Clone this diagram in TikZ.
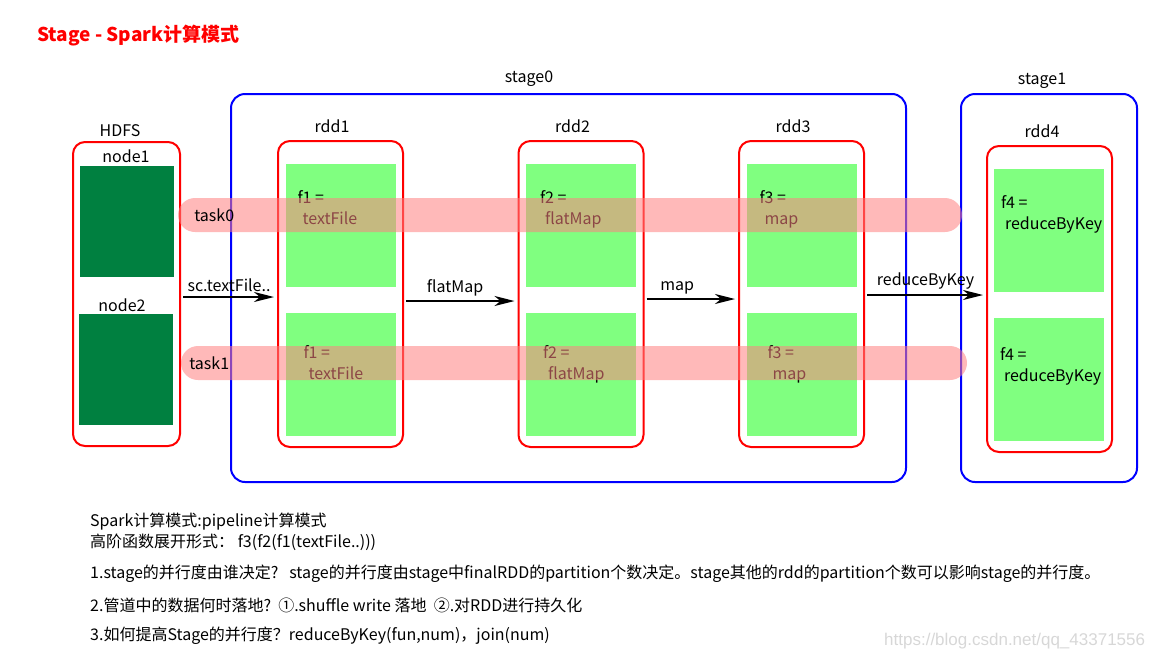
\documentclass[tikz,border=0pt]{standalone}
\usepackage{fontspec}
\setmainfont{Noto Sans CJK SC}
\newfontfamily\markfont{Liberation Sans}
\usetikzlibrary{arrows.meta,positioning,shapes.misc}
\definecolor{stageblue}{RGB}{0,0,255}
\definecolor{rddred}{RGB}{255,0,0}
\definecolor{hdfsgreen}{RGB}{0,128,64}
\definecolor{partgreen}{RGB}{128,255,128}
\definecolor{taskpink}{RGB}{255,128,128}
\definecolor{markgray}{RGB}{215,215,215}

\begin{document}
\begin{tikzpicture}[x=1pt,y=-1pt,
    font=\fontsize{16}{21}\selectfont,
    stagebox/.style={draw=stageblue,line width=2pt,rounded corners=14pt,inner sep=0pt},
    rddbox/.style={draw=rddred,line width=2pt,rounded corners=12pt,minimum width=125pt,minimum height=306pt,inner sep=0pt},
    part/.style={fill=partgreen,minimum width=110pt,minimum height=123pt,inner sep=0pt},
    block/.style={fill=hdfsgreen,minimum width=94pt,minimum height=111pt,inner sep=0pt},
    fntext/.style={align=left,inner sep=0pt},
    taskband/.style={rounded rectangle,fill=taskpink,fill opacity=0.55,minimum height=34pt,inner sep=0pt},
    flow/.style={-{Stealth[length=20pt,width=10pt,inset=6pt]},line width=2pt,shorten <=2pt,shorten >=3pt},
    note/.style={anchor=west,inner sep=0pt}]
  \useasboundingbox (0,0) rectangle (1159,662);
  % Titel
  \node[note,text=rddred,font=\fontsize{19}{23}\selectfont\bfseries] (title) at (37,36) {Stage - Spark计算模式};

  % Stages
  \node[stagebox,minimum width=675pt,minimum height=388pt] (stage0) at (568.5,288) {};
  \node[stagebox,minimum width=176pt,minimum height=388pt] (stage1) at (1049,288) {};
  \node (stage0lbl) at (529,79) {stage0};
  \node (stage1lbl) at (1042,81) {stage1};

  % HDFS mit zwei Bloecken
  \node[rddbox,minimum width=107pt,minimum height=304pt] (hdfs) at (126.5,294) {};
  \node (hdfslbl) at (120,131) {HDFS};
  \node[block] (node1) at (127,221.5) {};
  \node[block] (node2) at (126,369.5) {};
  \node (node1lbl) at (126,156) {node1};
  \node (node2lbl) at (122,305) {node2};

  % rdd1 bis rdd3 in stage0
  \foreach \i/\x/\f/\fn/\ta/\tb in {1/340.5/f1/textFile/12pt/18pt,
                                    2/581/f2/flatMap/14pt/17pt,
                                    3/801.5/f3/map/13pt/21pt}{
    \node[rddbox] (rdd\i) at (\x,294) {};
    \node (rdd\i lbl) at (\x-8.5,126) {rdd\i};
    \node[part] (rdd\i p0) at (\x,225.5) {};
    \node[part] (rdd\i p1) at (\x,374) {};
    \node[fntext,below right=27pt and \ta of rdd\i p0.north west] (rdd\i f0) {\f\ =\\\hspace*{5pt}\fn};
    \node[fntext,below right=33pt and \tb of rdd\i p1.north west] (rdd\i f1) {\f\ =\\\hspace*{5pt}\fn};
  }

  % rdd4 in stage1
  \node[rddbox] (rdd4) at (1049.5,299) {};
  \node (rdd4lbl) at (1042,131) {rdd4};
  \node[part] (rdd4p0) at (1049,230.5) {};
  \node[part] (rdd4p1) at (1049,379.5) {};
  \node[fntext,below right=27pt and 7pt of rdd4p0.north west] (rdd4f0) {f4 =\\\hspace*{4pt}reduceByKey};
  \node[fntext,below right=30pt and 6pt of rdd4p1.north west] (rdd4f1) {f4 =\\\hspace*{4pt}reduceByKey};

  % Pfeile zwischen den RDDs
  \draw[flow] ([yshift=-3pt]hdfs.east) -- node[above=1pt] {sc.textFile..} ([yshift=-3pt]hdfs.east -| rdd1.west);
  \draw[flow] ([yshift=-7pt]rdd1.east) -- node[above=1pt,pos=0.45] {flatMap} ([yshift=-7pt]rdd1.east -| rdd2.west);
  \draw[flow] ([yshift=-5pt]rdd2.east) -- node[above=1pt,pos=0.35] {map} ([yshift=-5pt]rdd2.east -| rdd3.west);
  \draw[flow] ([yshift=-1pt]rdd3.east) -- node[above=1pt] {reduceByKey} ([yshift=-1pt]rdd3.east -| rdd4.west);

  % Tasks ueber die Partitionen
  \node[taskband,minimum width=784pt] (task0) at (570,215) {};
  \node[taskband,minimum width=786pt] (task1) at (574,363) {};
  \node[right=13pt of task0.west] (task0lbl) {task0};
  \node[right=5pt of task1.west] (task1lbl) {task1};

  % Erlaeuterungen
  \node[note] (note1) at (90,522) {Spark计算模式:pipeline计算模式};
  \node[note] (note2) at (90,542) {高阶函数展开形式： f3(f2(f1(textFile..)))};
  \node[note] (note3) at (90,574) {1.stage的并行度由谁决定?\ \ \ stage的并行度由stage中finalRDD的partition个数决定。stage其他的rdd的partition个数可以影响stage的并行度。};
  \node[note] (note4) at (90,605) {2.管道中的数据何时落地?\ \ ①.shuffle write 落地\ \ ②.对RDD进行持久化};
  \node[note] (note5) at (90,636) {3.如何提高Stage的并行度？reduceByKey(fun,num)，join(num)};
  \node[note,text=markgray,font=\markfont\fontsize{17}{19}\selectfont] (mark) at (884,641) {https://blog.csdn.net/qq\_43371556};
\end{tikzpicture}
\end{document}
